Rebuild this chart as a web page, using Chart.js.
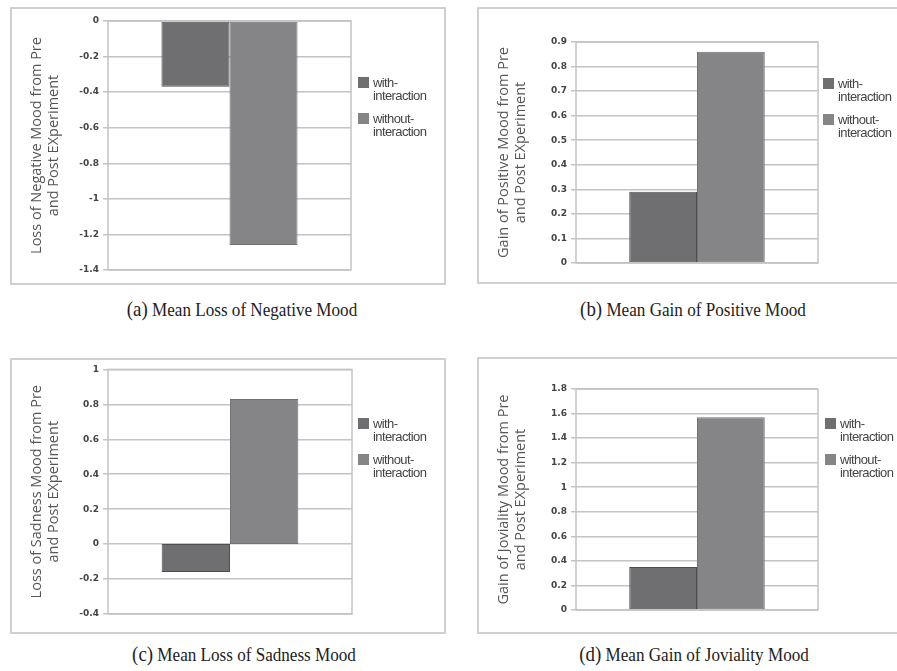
<!DOCTYPE html>
<html>
<head>
<meta charset="utf-8">
<script src="https://cdn.jsdelivr.net/npm/chart.js@4.4.1/dist/chart.umd.min.js"></script>
<style>
  body { margin: 0; width: 897px; height: 671px; overflow: hidden; background: #fff; position: relative; }
  .box { position: absolute; border: 2px solid #d0d0d0; box-sizing: border-box; overflow: hidden; }
  .box canvas { position: absolute; left: 0; top: 0; }
  .legend { position: absolute; font: 13px "Liberation Sans", Arial, sans-serif; color: #444; line-height: 13px; letter-spacing: -0.6px; }
  .legend .item { position: relative; padding-left: 15px; margin-bottom: 10px; white-space: nowrap; }
  .legend .sw { position: absolute; left: 0; top: 1px; width: 11px; height: 11px; }
  .cap { position: absolute; font: 19px "Liberation Serif", "Times New Roman", serif; color: #222; white-space: nowrap; transform: translateX(-50%) scaleX(0.9); }
  .cap b { font-weight: normal; font-size: 21px; }
</style>
</head>
<body>
<div class="box" style="left:10px;top:7px;width:436px;height:278px"><canvas id="chartA"></canvas></div>
<div class="box" style="left:477px;top:7px;width:440px;height:277px"><canvas id="chartB"></canvas></div>
<div class="box" style="left:10px;top:358px;width:436px;height:276px"><canvas id="chartC"></canvas></div>
<div class="box" style="left:477px;top:357px;width:440px;height:277px"><canvas id="chartD"></canvas></div>

<div class="cap" style="left:242px;top:297px"><b>(a)</b> Mean Loss of Negative Mood</div>
<div class="cap" style="left:693px;top:297px"><b>(b)</b> Mean Gain of Positive Mood</div>
<div class="cap" style="left:244px;top:642px"><b>(c)</b> Mean Loss of Sadness Mood</div>
<div class="cap" style="left:694px;top:642px"><b>(d)</b> Mean Gain of Joviality Mood</div>

<script>
// series names
const seriesNames = ["with-\ninteraction", "without-\ninteraction"];
const seriesColors = ["#6f6f72", "#858588"];
const seriesBorders = ["#4e4e50", "#727275"];

// values per panel [with-interaction, without-interaction]
const negativeMood = [-0.37, -1.26];
const positiveMood = [0.29, 0.86];
const sadnessMood = [-0.16, 0.83];
const jovialityMood = [0.35, 1.57];

// y axis ranges
const negativeTicks = { min: -1.4, max: 0, step: 0.2 };
const positiveTicks = { min: 0, max: 0.9, step: 0.1 };
const sadnessTicks = { min: -0.4, max: 1, step: 0.2 };
const jovialityTicks = { min: 0, max: 1.8, step: 0.2 };

const negativeTitle = ["Loss of Negative Mood from Pre", "and Post EXperiment"];
const positiveTitle = ["Gain of Positive Mood from Pre", "and Post EXperiment"];
const sadnessTitle = ["Loss of Sadness Mood from Pre", "and Post EXperiment"];
const jovialityTitle = ["Gain of Joviality Mood from Pre", "and Post EXperiment"];

// border round the plot area
const plotBorder = {
  id: "plotBorder",
  afterDraw(chart) {
    const a = chart.chartArea;
    const ctx = chart.ctx;
    ctx.save();
    ctx.strokeStyle = "#c4c4c4";
    ctx.lineWidth = 1.5;
    ctx.strokeRect(a.left, a.top, a.right - a.left, a.bottom - a.top);
    ctx.restore();
  }
};

function makeChart(id, values, ticks, title, pad, axisWidth, legendPos) {
  const canvas = document.getElementById(id);
  const box = canvas.parentElement;
  canvas.width = box.clientWidth;
  canvas.height = box.clientHeight;
  canvas.style.width = box.clientWidth + "px";
  canvas.style.height = box.clientHeight + "px";

  new Chart(canvas, {
    type: "bar",
    data: {
      labels: [""],
      datasets: values.map((v, i) => ({
        label: seriesNames[i],
        data: [v],
        backgroundColor: seriesColors[i],
        borderColor: seriesBorders[i],
        borderWidth: 1,
        borderSkipped: false,
        categoryPercentage: 0.56,
        barPercentage: 1.0
      }))
    },
    options: {
      responsive: false,
      animation: false,
      layout: { padding: pad },
      plugins: { legend: { display: false }, tooltip: { enabled: false } },
      scales: {
        x: {
          ticks: { display: false },
          grid: { display: false },
          border: { display: false },
          afterFit: (s) => { s.height = 0; }
        },
        y: {
          min: ticks.min,
          max: ticks.max,
          ticks: {
            stepSize: ticks.step,
            color: "#444",
            font: { family: "DejaVu Sans", size: 9, weight: "bold" },
            padding: 4,
            callback: (v) => String(+v.toFixed(1))
          },
          grid: { color: "#c4c4c4", lineWidth: 1.5, tickLength: 5 },
          border: { display: false },
          title: {
            display: true,
            text: title,
            color: "#555",
            font: { family: "Open Sans", size: 14.5 },
            lineHeight: 1.0,
            padding: { top: 16, bottom: 0 }
          },
          afterFit: (s) => { s.width = axisWidth; }
        }
      }
    },
    plugins: [plotBorder]
  });

  // legend to the right of the plot
  const leg = document.createElement("div");
  leg.className = "legend";
  leg.style.left = legendPos[0] + "px";
  leg.style.top = legendPos[1] + "px";
  seriesNames.forEach((name, i) => {
    const item = document.createElement("div");
    item.className = "item";
    const sw = document.createElement("span");
    sw.className = "sw";
    sw.style.background = seriesColors[i];
    item.appendChild(sw);
    name.split("\n").forEach((line, j) => {
      if (j) item.appendChild(document.createElement("br"));
      item.appendChild(document.createTextNode(line));
    });
    leg.appendChild(item);
  });
  box.appendChild(leg);
}

makeChart("chartA", negativeMood, negativeTicks, negativeTitle, { left: 0, top: 12, right: 93, bottom: 13 }, 96, [346, 67]);
makeChart("chartB", positiveMood, positiveTicks, positiveTitle, { left: 0, top: 33, right: 97, bottom: 19 }, 97, [344, 68]);
makeChart("chartC", sadnessMood, sadnessTicks, sadnessTitle, { left: 0, top: 5, right: 92, bottom: 18 }, 96, [346, 57]);
makeChart("chartD", jovialityMood, jovialityTicks, jovialityTitle, { left: 0, top: 30, right: 97, bottom: 22 }, 97, [346, 58]);
</script>
</body>
</html>
